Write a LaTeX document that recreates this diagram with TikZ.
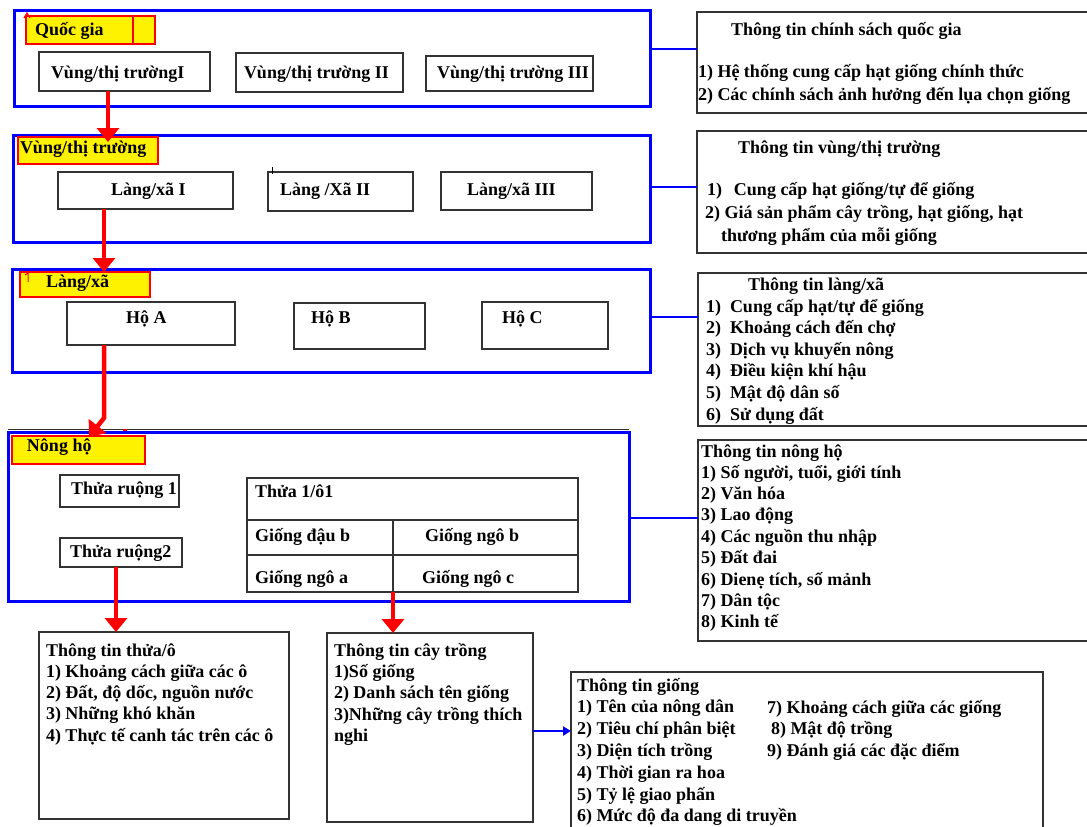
\documentclass[tikz,border=0pt]{standalone}
\usepackage{fontspec}
\setmainfont{Liberation Serif}
\usetikzlibrary{arrows.meta,fit}
\newcommand{\ml}[2]{\def\arraystretch{#1}\begin{tabular}[t]{@{}l@{}}#2\end{tabular}}
\begin{document}
\begin{tikzpicture}[x=1pt,y=-1pt,
  every node/.style={inner sep=0pt,outer sep=0pt,font=\fontsize{18}{21.6}\selectfont\bfseries},
  bbox/.style={draw=blue,line width=3pt},
  kbox/.style={draw=black!80,line width=1.4pt},
  ybox/.style={draw=red,fill=yellow,line width=1.3pt},
  txt/.style={anchor=base west},
  redarr/.style={draw=red,line width=4.5pt,-{Triangle[width=22pt,length=14pt]}},
  bline/.style={draw=blue,line width=2.5pt},
  barr/.style={draw=blue,line width=2.5pt,-{Triangle[width=9pt,length=8pt]}}
]
\useasboundingbox (0,0) rectangle (1087,827);
\fill[white] (0,0) rectangle (1087,827);
\clip (0,0) rectangle (1087,827);

% ---------- Level 1: Quoc gia ----------
\node[bbox,fit={(14,10)(650,106)}] (nat) {};
\node[ybox,fit={(26,16)(155,44)}] (lq) {};
\draw[red,line width=1.2pt] (133,16) -- (133,44);
\draw[red,line width=1.2pt] (24,18) -- (27,13) -- (30,18);
\node[txt] (tq) at (35,35) {Quốc gia};
\node[kbox,fit={(39,52)(210,91)}] (v1) {};
\node[kbox,fit={(236,53)(403,92)}] (v2) {};
\node[kbox,fit={(426,56)(593,91)}] (v3) {};
\node[txt] (tv1) at (51,78) {Vùng/thị trườngI};
\node[txt] (tv2) at (244,78) {Vùng/thị trường II};
\node[txt] (tv3) at (437,78) {Vùng/thị trường III};

\node[kbox,fit={(697,12)(1100,113)}] (r1) {};
\node[txt] (r1t) at (731,35) {Thông tin chính sách quốc gia};
\node[txt] (r1l) at (698,77) {\ml{1.065}{1) Hệ thống cung cấp hạt giống chính thức\\
2) Các chính sách ảnh hưởng đến lụa chọn giống}};

% ---------- Level 2: Vung/thi truong ----------
\node[bbox,fit={(13,135)(650,242)}] (reg) {};
\node[ybox,fit={(18,137)(158,164)}] (lv) {};
\node[txt] (tlv) at (20,153) {Vùng/thị trường};
\node[kbox,fit={(58,172)(233,209)}] (l1) {};
\node[kbox,fit={(268,172)(413,211)}] (l2) {};
\node[kbox,fit={(441,172)(592,210)}] (l3) {};
\draw[black,line width=1pt] (272,167) -- (272,174);
\node[txt] (tl1) at (111,195) {Làng/xã I};
\node[txt] (tl2) at (280,195) {Làng /Xã II};
\node[txt] (tl3) at (467,195) {Làng/xã III};

\node[kbox,fit={(697,131)(1100,253)}] (r2) {};
\node[txt] (r2t) at (738,153) {Thông tin vùng/thị trường};
\node[txt] (r2l) at (705,195) {\ml{1.065}{\hspace*{2pt}\makebox[27pt][l]{1)}Cung cấp hạt giống/tự để giống\\
2) Giá sản phẩm cây trồng, hạt giống, hạt\\
\hspace*{16pt}thương phẩm của mỗi giống}};

% ---------- Level 3: Lang/xa ----------
\node[bbox,fit={(12,269)(650,372)}] (vil) {};
\node[ybox,fit={(20,272)(150,297)}] (ll) {};
\draw[red,line width=1pt] (25,275) -- (28,273) -- (28,282);
\node[txt] (tll) at (46,287) {Làng/xã};
\node[kbox,fit={(67,302)(235,345)}] (hA) {};
\node[kbox,fit={(294,303)(425,349)}] (hB) {};
\node[kbox,fit={(482,302)(608,349)}] (hC) {};
\node[txt] (thA) at (126,323) {Hộ A};
\node[txt] (thB) at (311,323) {Hộ B};
\node[txt] (thC) at (502,323) {Hộ C};

\node[kbox,fit={(698,273)(1100,426)}] (r3) {};
\node[txt] (r3t) at (748,290) {Thông tin làng/xã};
\node[txt] (r3l) at (706,312) {\ml{1}{\makebox[24pt][l]{1)}Cung cấp hạt/tự để giống\\
\makebox[24pt][l]{2)}Khoảng cách đến chợ\\
\makebox[24pt][l]{3)}Dịch vụ khuyến nông\\
\makebox[24pt][l]{4)}Điều kiện khí hậu\\
\makebox[24pt][l]{5)}Mật độ dân số\\
\makebox[24pt][l]{6)}Sử dụng đất}};

% ---------- Level 4: Nong ho ----------
\node[bbox,fit={(8,432)(629,601)}] (hh) {};
\draw[black!80,line width=1.2pt] (8,429.6) -- (629,429.6);
\draw[red,line width=1.2pt] (123,430) -- (127,430);
\node[ybox,fit={(12,436)(145,464)}] (lh) {};
\node[txt] (tlh) at (27,451) {Nông hộ};
\node[kbox,fit={(60,475)(179,507)}] (tr1) {};
\node[kbox,fit={(60,538)(182,567)}] (tr2) {};
\node[txt] (ttr1) at (71,494) {Thửa ruộng 1};
\node[txt] (ttr2) at (70,557) {Thửa ruộng2};
\node[kbox,fit={(247,478)(578,592)}] (tbl) {};
\coordinate (row1) at (0,520);
\coordinate (row2) at (0,555);
\coordinate (colm) at (393,0);
\draw[black!80,line width=1.4pt] (tbl.west |- row1) -- (tbl.east |- row1);
\draw[black!80,line width=1.4pt] (tbl.west |- row2) -- (tbl.east |- row2);
\draw[black!80,line width=1.4pt] (colm |- row1) -- (tbl.south -| colm);
\node[txt] (tc0) at (255,497) {Thửa 1/ô1};
\node[txt] (tc1) at (255,541) {Giống đậu b};
\node[txt] (tc2) at (425,541) {Giống ngô b};
\node[txt] (tc3) at (255,583) {Giống ngô a};
\node[txt] (tc4) at (422,583) {Giống ngô c};

\node[kbox,fit={(698,440)(1100,641)}] (r4) {};
\node[txt] (r4t) at (701,457) {Thông tin nông hộ};
\node[txt] (r4l) at (701,478) {\ml{0.992}{1) Số người, tuổi, giới tính\\
2) Văn hóa\\
3) Lao động\\
4) Các nguồn thu nhập\\
5) Đất đai\\
6) Dienẹ tích, số mảnh\\
7) Dân tộc\\
8) Kinh tế}};

% ---------- Bottom boxes ----------
\node[kbox,fit={(39,632)(289,819)}] (thua) {};
\node[txt] (tthua) at (46,656) {\ml{0.984}{Thông tin thửa/ô\\
1) Khoảng cách giữa các ô\\
2) Đất, độ dốc, nguồn nước\\
3) Những khó khăn\\
4) Thực tế canh tác trên các ô}};
\node[kbox,fit={(327,633)(533,822)}] (cay) {};
\node[txt] (tcay) at (334,656) {\ml{0.99}{Thông tin cây trồng\\
1)Số giống\\
2) Danh sách tên giống\\
3)Những cây trồng thích\\
nghi}};
\node[kbox,fit={(571,672)(1043,845)}] (gio) {};
\node[txt] (tgio) at (577,691) {\ml{1.01}{Thông tin giống\\
1) Tên của nông dân\\
2) Tiêu chí phân biệt\\
3) Diện tích trồng\\
4) Thời gian ra hoa\\
5) Tỷ lệ giao phấn\\
6) Mức độ đa dang di truyền}};
\node[txt] (tgio2) at (767,713) {\ml{1.01}{7) Khoảng cách giữa các giống\\
\hspace*{4pt}8) Mật độ trồng\\
9) Đánh giá các đặc điểm}};

% ---------- Red arrows ----------
\coordinate (a1) at (108,142);
\draw[redarr] (v1.south -| a1) -- (a1);
\coordinate (a2) at (104,272);
\draw[redarr] (l1.south -| a2) -- (a2);
\coordinate (a3m) at (104,418);
\coordinate (a3) at (89,437);
\draw[redarr] (hA.south -| a3m) -- (a3m) -- (a3);
\coordinate (a4) at (116,0);
\draw[redarr] (tr2.south -| a4) -- (thua.north -| a4);
\draw[redarr] (tbl.south -| colm) -- (cay.north -| colm);

% ---------- Blue connectors ----------
\coordinate (b1) at (0,49);
\coordinate (b2) at (0,187);
\coordinate (b3) at (0,317);
\coordinate (b4) at (0,518);
\coordinate (b5) at (0,731);
\draw[bline] (nat.east |- b1) -- (r1.west |- b1);
\draw[bline] (reg.east |- b2) -- (r2.west |- b2);
\draw[bline] (vil.east |- b3) -- (r3.west |- b3);
\draw[bline] (hh.east |- b4) -- (r4.west |- b4);
\draw[barr] (cay.east |- b5) -- (gio.west |- b5);
\end{tikzpicture}
\end{document}
